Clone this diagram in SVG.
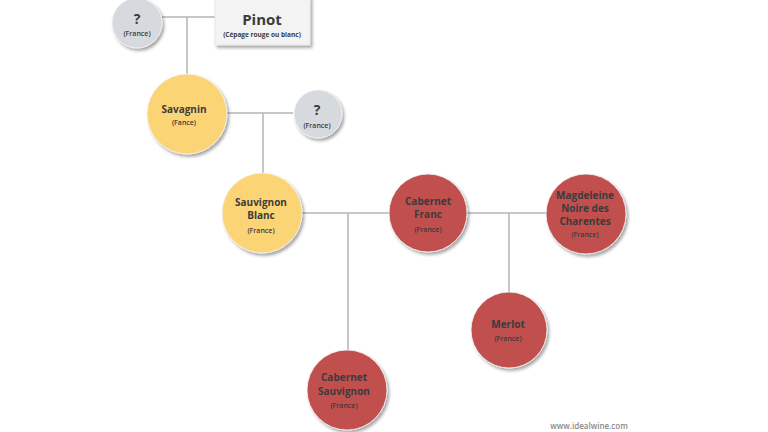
<svg xmlns="http://www.w3.org/2000/svg" width="768" height="432" viewBox="0 0 768 432">
<defs>
<filter id="sh" x="-20%" y="-20%" width="150%" height="150%">
<feDropShadow dx="2" dy="2.5" stdDeviation="1.5" flood-color="#000" flood-opacity="0.35"/>
</filter>
<style>
.c{stroke:#f4f4f4;stroke-width:0.8;filter:url(#sh)}
.g{fill:#d6dadf}
.y{fill:#fbd574}
.r{fill:#c0504d}
.t{font-family:"Open Sans","Liberation Sans",sans-serif;font-weight:700;text-anchor:middle;fill:#3b3b3b}
.n{font-size:10px}
.s{font-size:7px;font-weight:600}
.q{font-size:14px}
.ln{stroke:#b5b5b5;stroke-width:1.5;fill:none}
</style>
</defs>
<rect width="768" height="432" fill="#ffffff"/>
<g id="connectors">
<path class="ln" d="M162 17H215M187 17V75"/>
<path class="ln" d="M227 113H293M263 113V213"/>
<path class="ln" d="M302 213H389M348 213V350"/>
<path class="ln" d="M467 213H546M509 213V292"/>
</g>
<g id="unknown1">
<circle class="c g" cx="137" cy="23" r="25"/>
<text class="t q" x="137" y="24">?</text>
<text class="t s" x="137" y="36">(France)</text>
</g>
<g id="pinot">
<rect x="215" y="-3" width="95" height="48" fill="#f3f3f3" stroke="#e0e0e0" stroke-width="0.8" filter="url(#sh)"/>
<text class="t" x="262" y="25" font-size="15">Pinot</text>
<text class="t" x="262" y="37" font-size="6.5" font-weight="600">(Cépage rouge ou blanc)</text>
</g>
<g id="savagnin">
<circle class="c y" cx="187" cy="114" r="40"/>
<text class="t n" x="184" y="113">Savagnin</text>
<text class="t s" x="184" y="125">(Fance)</text>
</g>
<g id="unknown2">
<circle class="c g" cx="318" cy="114" r="24"/>
<text class="t q" x="317" y="115">?</text>
<text class="t s" x="317" y="128">(France)</text>
</g>
<g id="sauvignon-blanc">
<circle class="c y" cx="262" cy="213" r="40"/>
<text class="t n" x="261" y="206">Sauvignon</text>
<text class="t n" x="261" y="219">Blanc</text>
<text class="t s" x="261" y="233">(France)</text>
</g>
<g id="cabernet-franc">
<circle class="c r" cx="428" cy="213" r="39"/>
<text class="t n" x="428" y="205">Cabernet</text>
<text class="t n" x="428" y="218">Franc</text>
<text class="t s" x="428" y="232">(France)</text>
</g>
<g id="magdeleine">
<circle class="c r" cx="586" cy="214" r="40"/>
<text class="t n" x="585" y="199" font-size="9.5">Magdeleine</text>
<text class="t n" x="585" y="212" font-size="9.5">Noire des</text>
<text class="t n" x="585" y="225" font-size="9.5">Charentes</text>
<text class="t s" x="585" y="237">(France)</text>
</g>
<g id="merlot">
<circle class="c r" cx="509" cy="330" r="38"/>
<text class="t n" x="508" y="328">Merlot</text>
<text class="t s" x="508" y="341">(France)</text>
</g>
<g id="cabernet-sauvignon">
<circle class="c r" cx="347" cy="390" r="40"/>
<text class="t n" x="344" y="381">Cabernet</text>
<text class="t n" x="344" y="395">Sauvignon</text>
<text class="t s" x="344" y="408">(France)</text>
</g>
<text x="589" y="429" font-family="Open Sans,Liberation Sans,sans-serif" font-size="8" font-weight="600" fill="#8a8a8a" text-anchor="middle">www.idealwine.com</text>
</svg>
